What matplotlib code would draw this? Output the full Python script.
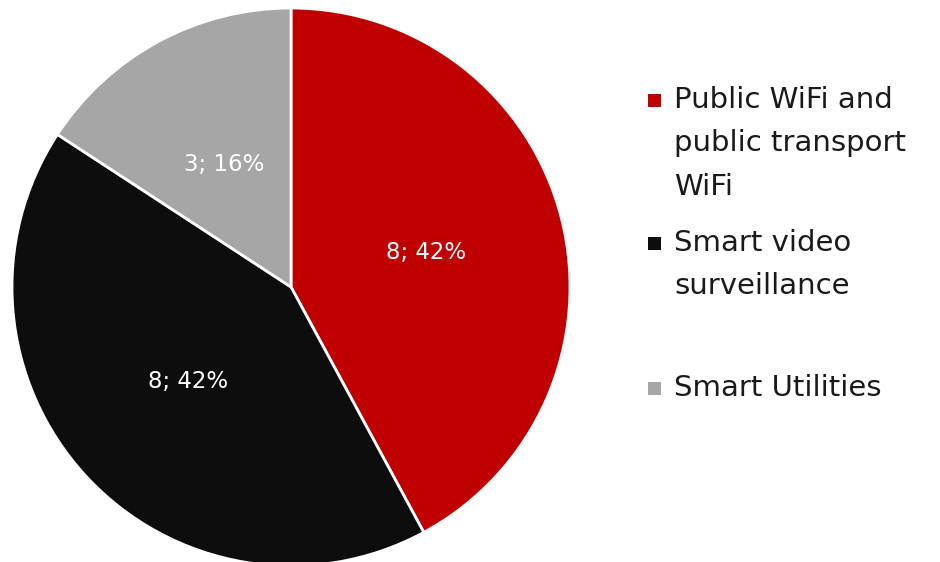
import matplotlib.pyplot as plt
from matplotlib.patches import Rectangle

categories = ["Public WiFi and\npublic transport\nWiFi", "Smart video\nsurveillance", "Smart Utilities"]
values = [8, 8, 3]
colors = ["#C00000", "#0D0D0D", "#A6A6A6"]

plt.rcParams['font.family'] = ['DejaVu Sans']

fig = plt.figure(figsize=(9.4, 5.62), dpi=100)
ax = fig.add_axes([12 / 940, -4 / 562, 558 / 940, 558 / 562])

total = sum(values)
labels = [f"{v}; {round(v / total * 100)}%" for v in values]

wedges, texts = ax.pie(values, colors=colors, startangle=90, counterclock=False,
                       labels=labels, labeldistance=0.5,
                       wedgeprops=dict(edgecolor="white", linewidth=2))
for t in texts:
    t.set_color("white")
    t.set_fontsize(16.5)
    t.set_ha("center")
    t.set_va("center")
ax.set_xlim(-1, 1)
ax.set_ylim(-1, 1)
ax.set_aspect("equal")
ax.axis("off")

# legend, placed by hand to follow the reference spacing
legend_y = [100, 243, 388]
for cat, col, y in zip(categories, colors, legend_y):
    fig.patches.append(Rectangle((648 / 940, 1 - (y + 7) / 562), 13 / 940, 13 / 562,
                                 transform=fig.transFigure, facecolor=col,
                                 edgecolor="none"))
    fig.text(674 / 940, 1 - (y - 14) / 562, cat, fontsize=21,
             color="#1a1a1a", va="top", ha="left", linespacing=1.70)

fig.savefig("out.png", dpi=100)
